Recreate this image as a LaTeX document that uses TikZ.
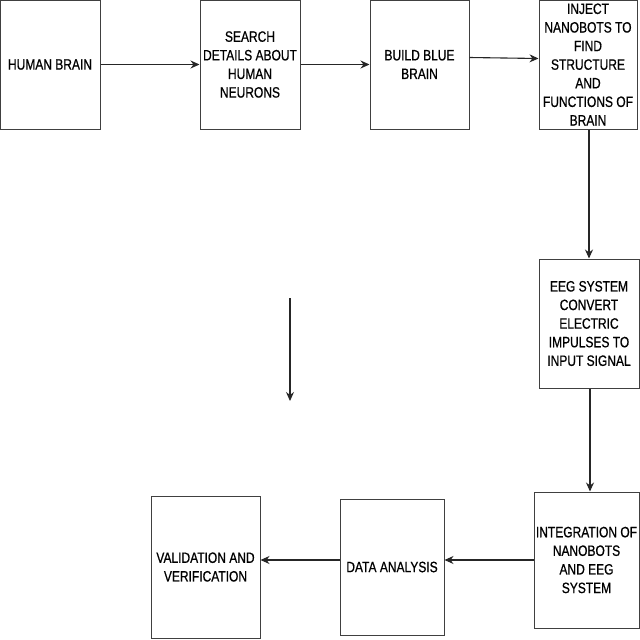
\documentclass[tikz,border=0pt]{standalone}
\usepackage{fontspec}
\setmainfont[FakeStretch=0.8,FakeBold=0.7]{Liberation Sans}
\usetikzlibrary{arrows.meta}
\begin{document}
\begin{tikzpicture}[x=1pt,y=-1pt,
  box/.style={draw=black!75,line width=1pt,inner sep=0pt,align=center,
    font=\fontsize{15}{18.6}\selectfont},
  conn/.style={draw=black!85,line width=1.1pt,-{Stealth[length=9pt,width=8pt]}}]
\useasboundingbox[fill=white] (0,0) rectangle (640,640);
\node[box,minimum width=100pt,minimum height=129pt] (n1) at (50,64.5) {HUMAN BRAIN};
\node[box,minimum width=100pt,minimum height=129pt] (n2) at (250,64.5) {SEARCH\\DETAILS ABOUT\\HUMAN\\NEURONS};
\node[box,minimum width=99pt,minimum height=129pt] (n3) at (419.5,64.5) {BUILD BLUE\\BRAIN};
\node[box,minimum width=98pt,minimum height=129pt] (n4) at (588,64.5) {INJECT\\NANOBOTS TO\\FIND\\STRUCTURE\\AND\\FUNCTIONS OF\\BRAIN};
\node[box,minimum width=100pt,minimum height=129pt] (n5) at (589,323.5) {EEG SYSTEM\\CONVERT\\ELECTRIC\\IMPULSES TO\\INPUT SIGNAL};
\node[box,minimum width=105pt,minimum height=136pt] (n6) at (586.5,560) {INTEGRATION OF\\NANOBOTS\\AND EEG\\SYSTEM};
\node[box,minimum width=104pt,minimum height=136pt] (n7) at (392,567) {DATA ANALYSIS};
\node[box,minimum width=109pt,minimum height=142pt] (n8) at (205.5,567) {VALIDATION AND\\VERIFICATION};
\coordinate (s1) at (290,298);
\coordinate (s2) at (290,401);
\draw[conn] (n1.east) -- (n2.west);
\draw[conn] (n2.east) -- (n3.west);
\draw[conn] ([yshift=7pt]n3.east) -- ([yshift=6pt]n4.west);
\draw[conn] ([xshift=1pt]n4.south) -- ([xshift=1pt]n4.south |- n5.north);
\draw[conn] ([xshift=1pt]n5.south) -- ([xshift=1pt]n5.south |- n6.north);
\draw[conn] (n6.west) -- (n6.west -| n7.east);
\draw[conn] ([yshift=7pt]n7.west) -- ([yshift=7pt]n7.west -| n8.east);
\draw[conn] (s1) -- (s2);
\end{tikzpicture}
\end{document}
